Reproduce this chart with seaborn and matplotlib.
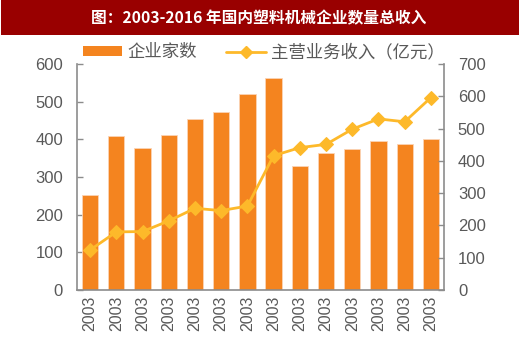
import matplotlib
matplotlib.use("Agg")
import matplotlib.pyplot as plt
import seaborn as sns
import pandas as pd
from matplotlib.patches import Rectangle
from matplotlib.lines import Line2D
from matplotlib.patches import Patch

years = ["2003"] * 14
companies = [252, 409, 378, 411, 453, 472, 520, 564, 330, 364, 375, 396, 388, 402]
revenue = [124, 180, 181, 214, 253, 246, 260, 416, 441, 451, 498, 530, 521, 596]

title = "图：2003-2016 年国内塑料机械企业数量总收入"
bar_label = "企业家数"
line_label = "主营业务收入（亿元）"

sns.set_theme(style="white")
plt.rcParams['font.family'] = ['Noto Sans CJK SC', 'DejaVu Sans']

bar_color = "#F4841F"
line_color = "#FDB92A"
gray = "#595959"
spine_gray = "#8C8C8C"
num_font = ['Liberation Sans', 'DejaVu Sans']

df = pd.DataFrame({"idx": list(range(len(years))), "companies": companies, "revenue": revenue})

fig = plt.figure(figsize=(5.2, 3.44), dpi=100)
# title bar
fig.patches.append(Rectangle((0.002, 1 - 35 / 344), 0.996, 35 / 344, transform=fig.transFigure,
                             facecolor="#990000", edgecolor="none", zorder=0))
fig.text(0.497, 1 - 18 / 344, title, color="white", fontsize=11.3, fontweight="bold",
         ha="center", va="center")

ax = fig.add_axes([77 / 520, 1 - 290 / 344, 367 / 520, 226 / 344])
sns.barplot(data=df, x="idx", y="companies", color=bar_color, width=0.62, ax=ax,
            saturation=1, edgecolor="#FBD3B5", linewidth=0.6)
ax.set_ylim(0, 600)
ax.set_xlim(-0.5, len(years) - 0.5)
ax.set_yticks(range(0, 601, 100))
ax.set_xticks(range(len(years)))
ax.set_xticklabels(years, rotation=90, color=gray, fontsize=11.5, family=num_font)
ax.set_xlabel("")
ax.set_ylabel("")
ax.tick_params(axis="y", direction="in", length=4, width=1, color=spine_gray, labelcolor=gray,
               labelsize=12, pad=10)
ax.tick_params(axis="x", length=0, pad=4)
for lbl in ax.get_yticklabels():
    lbl.set_family(num_font)

ax2 = ax.twinx()
sns.lineplot(data=df, x="idx", y="revenue", color=line_color, marker="D", markersize=7.5,
             markeredgecolor=line_color, linewidth=2, ax=ax2)
ax2.set_ylim(0, 700)
ax2.set_yticks(range(0, 701, 100))
ax2.set_ylabel("")
ax2.tick_params(axis="y", direction="in", length=4, width=1, color=spine_gray, labelcolor=gray,
                labelsize=12, pad=10)
for lbl in ax2.get_yticklabels():
    lbl.set_family(num_font)

for a in (ax, ax2):
    a.spines["top"].set_visible(False)
    for s in ("left", "right", "bottom"):
        a.spines[s].set_color(spine_gray)
        a.spines[s].set_linewidth(1.2)
ax.spines["right"].set_visible(False)
ax2.spines["left"].set_visible(False)
ax2.spines["bottom"].set_visible(False)

handles = [Patch(facecolor=bar_color, edgecolor="none"),
           Line2D([0], [0], color=line_color, lw=2, marker="D", markersize=6.5)]
fig.legend(handles, [bar_label, line_label], loc="center", bbox_to_anchor=(0.507, 1 - 52 / 344),
           ncol=2, frameon=False, fontsize=12.5, handlelength=2.3, handleheight=0.46,
           columnspacing=1.65, handletextpad=0.3, labelcolor=gray)

fig.savefig("out.png", dpi=100)
